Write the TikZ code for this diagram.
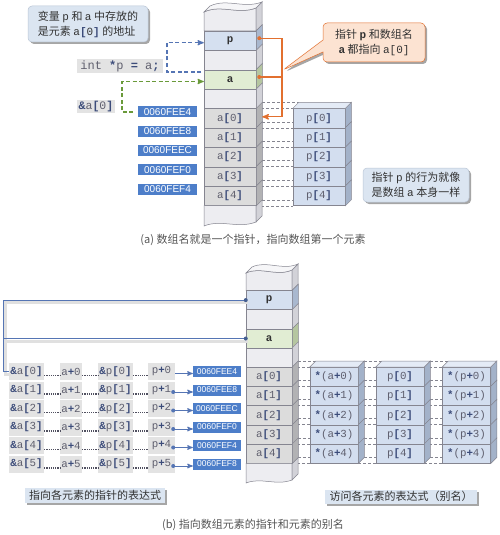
\documentclass[tikz,border=0pt]{standalone}
\usepackage{fontspec}
\setmainfont{Liberation Sans}
\setmonofont{Liberation Mono}
\newfontfamily\cjk{Noto Sans CJK SC}
\usetikzlibrary{arrows,shadows,shapes.callouts,backgrounds}

\definecolor{rim}{HTML}{858590}
\definecolor{blank}{HTML}{EDEDF1}
\definecolor{blankside}{HTML}{D2D2D8}
\definecolor{blanktop}{HTML}{F6F6F8}
\definecolor{pcell}{HTML}{D5E0F0}
\definecolor{pside}{HTML}{A9B8CF}
\definecolor{acell}{HTML}{E1EDD3}
\definecolor{aside}{HTML}{B5C6A0}
\definecolor{elcell}{HTML}{DCDCDC}
\definecolor{elside}{HTML}{B2B2B4}
\definecolor{bxcell}{HTML}{D3DEEF}
\definecolor{bxside}{HTML}{A3B2C9}
\definecolor{bxtop}{HTML}{E4EBF6}
\definecolor{addr}{HTML}{4D7EC9}
\definecolor{expr}{HTML}{E3E3E3}
\definecolor{note}{HTML}{DBE5F1}
\definecolor{noteline}{HTML}{BAC6D6}
\definecolor{orline}{HTML}{E2702F}
\definecolor{ornote}{HTML}{FCE3D2}
\definecolor{blline}{HTML}{5575B4}
\definecolor{gnline}{HTML}{6A9A3A}
\definecolor{txt}{HTML}{5F5F6E}
\definecolor{brk}{HTML}{3C4C7A}
\definecolor{capc}{HTML}{555555}
\definecolor{leadc}{HTML}{505060}

\newcommand\bk[1]{\textbf{\color{brk}#1}}
\def\dd{6pt}

\begin{document}
\begin{tikzpicture}[x=1pt,y=-1pt,>=stealth',
  cell/.style={draw=rim,line width=0.5pt,inner sep=0pt,minimum height=19.4pt,text=txt,font=\ttfamily\fontsize{10.8}{12}\selectfont},
  colA/.style={cell,minimum width=52pt},
  colB/.style={cell,minimum width=46pt,minimum height=19.2pt},
  boxA/.style={cell,fill=bxcell,minimum width=52pt},
  boxB/.style={cell,fill=bxcell,minimum width=48pt,minimum height=19.2pt},
  bold/.style={font=\ttfamily\bfseries\fontsize{10.8}{12}\selectfont,text=black!80},
  face/.style={draw=rim,line width=0.5pt},
  link/.style={draw=rim,line width=0.5pt,dash pattern=on 3pt off 2pt},
  addrbox/.style={fill=addr,text=white,inner sep=0pt,minimum height=11pt,font=\fontsize{10}{11}\selectfont},
  exprbox/.style={fill=expr,inner sep=0pt,minimum height=17pt,text=txt,font=\ttfamily\fontsize{10.8}{12}\selectfont},
  notebox/.style={draw=noteline,fill=note,rounded corners=4pt,line width=0.5pt,
    drop shadow={shadow xshift=2pt,shadow yshift=-2pt,opacity=0.35,fill=black},
    font=\cjk\fontsize{11}{15}\selectfont,text=black!80,align=left,inner sep=3pt},
  tagbox/.style={fill=note,inner sep=1pt,
    drop shadow={shadow xshift=2pt,shadow yshift=-2pt,opacity=0.35,fill=black},
    font=\cjk\fontsize{11}{13}\selectfont,text=black!80},
  caption/.style={font=\cjk\fontsize{11}{12}\selectfont,text=capc},
  leader/.style={draw=leadc,line width=1.1pt,dash pattern=on 1.1pt off 1.1pt},
  oline/.style={draw=orline,line width=1.3pt},
  bdash/.style={draw=blline,line width=1.2pt,dash pattern=on 4pt off 2.5pt,->},
  gdash/.style={draw=gnline,line width=1.2pt,dash pattern=on 4pt off 2.5pt,->},
  bline/.style={draw=blline,line width=1pt},
  lshadow/.style={draw=black!12,line width=3pt,transform canvas={xshift=2pt,yshift=-2.5pt}},
  barrow/.style={draw=blline,line width=1pt,->}]

\useasboundingbox (0,0) rectangle (500,535);

% ---- (a) memory column
\draw[face,fill=blank] (204,31) -- (204,12) .. controls (221,4) and (238,15) .. (256,8) -- (256,31) -- cycle;
\draw[face,fill=blankside] (256,8) -- (262,2) -- (262,25) -- (256,31) -- cycle;
\draw[face,fill=blanktop] (204,12) .. controls (221,4) and (238,15) .. (256,8) -- (262,2) .. controls (244,9) and (227,-2) .. (210,6) -- cycle;

\node[colA,fill=pcell,bold]   (pA)  at (230,40.7) {p};
\node[colA,fill=blank]        (gA1) at (230,60.1) {};
\node[colA,fill=acell,bold]   (aA)  at (230,79.5) {a};
\node[colA,fill=blank]        (gA2) at (230,98.9) {};
\foreach \i in {0,...,4}
  \node[colA,fill=elcell] (elA\i) at (230,{118.3+19.4*\i}) {a\bk{[}\i\bk{]}};

\draw[face,fill=blank] (204,205.6) -- (204,226) .. controls (221,219) and (238,229) .. (256,222) -- (256,205.6) -- cycle;
\draw[face,fill=blankside] (256,205.6) -- (262,199.6) -- (262,216) -- (256,222) -- cycle;

% p[i] stack
\foreach \i in {0,...,4}
  \node[boxA] (ptA\i) at (319,{118.3+19.4*\i}) {p\bk{[}\i\bk{]}};

% addresses
\foreach \i/\ad in {0/0060FEE4,1/0060FEE8,2/0060FEEC,3/0060FEF0,4/0060FEF4}
  \node[addrbox,minimum width=59pt] (adA\i) at (167.5,{111.6+19.4*\i}) {\ad};

\node[exprbox,minimum width=86pt,minimum height=14pt,font=\ttfamily\fontsize{12}{14}\selectfont] (decl) at (120,66) {int \bk{*}p \bk{=} a\bk{;}};
\node[exprbox,minimum width=38pt,minimum height=13pt,font=\ttfamily\fontsize{11.5}{13}\selectfont] (adr0) at (96,106.5) {\bk{\&}a\bk{[}0\bk{]}};

% ---- (b) memory column
\draw[face,fill=blank] (246,290.5) -- (246,273) .. controls (261,266) and (276,277) .. (292,270) -- (292,290.5) -- cycle;
\draw[face,fill=blankside] (292,270) -- (298,264) -- (298,284.5) -- (292,290.5) -- cycle;
\draw[face,fill=blanktop] (246,273) .. controls (261,266) and (276,277) .. (292,270) -- (298,264) .. controls (282,271) and (267,260) .. (252,267) -- cycle;

\node[colB,fill=pcell,bold]   (pB)  at (269,300.1) {p};
\node[colB,fill=blank]        (gB1) at (269,319.3) {};
\node[colB,fill=acell,bold]   (aB)  at (269,338.5) {a};
\node[colB,fill=blank]        (gB2) at (269,357.7) {};
\foreach \i in {0,...,4}
  \node[colB,fill=elcell] (elB\i) at (269,{376.9+19.2*\i}) {a\bk{[}\i\bk{]}};

\draw[face,fill=blank] (246,463.3) -- (246,483) .. controls (261,477) and (276,486) .. (292,480) -- (292,463.3) -- cycle;
\draw[face,fill=blankside] (292,463.3) -- (298,457.3) -- (298,474) -- (292,480) -- cycle;

% alias stacks
\foreach \i in {0,...,4} {
  \node[boxB] (stA\i) at (334,{376.9+19.2*\i})   {\bk{*}(a\bk{+}\i)};
  \node[boxB] (ptB\i) at (400,{376.9+19.2*\i})   {p\bk{[}\i\bk{]}};
  \node[boxB] (stP\i) at (466.5,{376.9+19.2*\i}) {\bk{*}(p\bk{+}\i)};
}

% side and top faces
\foreach \n/\col in {pA/pside,gA1/blankside,aA/aside,gA2/blankside,pB/pside,gB1/blankside,aB/aside,gB2/blankside}
  \draw[face,fill=\col] (\n.north east) -- ++(\dd,\dd) -- ([shift={(\dd,\dd)}]\n.south east) -- (\n.south east) -- cycle;
\foreach \n/\col in {elA/elside,elB/elside,ptA/bxside,stA/bxside,ptB/bxside,stP/bxside}
  \foreach \i in {0,...,4}
    \draw[face,fill=\col] (\n\i.north east) -- ++(\dd,\dd) -- ([shift={(\dd,\dd)}]\n\i.south east) -- (\n\i.south east) -- cycle;
\foreach \n in {ptA,stA,ptB,stP}
  \draw[face,fill=bxtop] (\n0.north west) -- ++(\dd,\dd) -- ([shift={(\dd,\dd)}]\n0.north east) -- (\n0.north east) -- cycle;

% dashed row links
\begin{scope}[on background layer]
\fill[white] (0,0) rectangle (500,535);
\foreach \lf/\rt in {elA/ptA,elB/stA,stA/ptB,ptB/stP} {
  \foreach \i in {0,...,4} {
    \draw[link] (\lf\i.north east) -- (\rt\i.north west);
    \draw[link] ([shift={(\dd,\dd)}]\lf\i.north east) -- ([shift={(\dd,\dd)}]\rt\i.north west);
  }
  \draw[link] (\lf4.south east) -- (\rt4.south west);
  \draw[link] ([shift={(\dd,\dd)}]\lf4.south east) -- ([shift={(\dd,\dd)}]\rt4.south west);
}
\end{scope}

% (a) connectors
\coordinate (bs) at (201,72);
\coordinate (gs) at (133,112);
\draw[bdash] (bs) -- ++(-34,0) |- ([yshift=-2pt]pA.west);
\draw[gdash] (gs) -- ++(-11,0) |- ([yshift=-2pt]aA.west);

\coordinate (oj)   at (282,0);
\coordinate (pdot) at ([shift={(3pt,2.5pt)}]pA.east);
\coordinate (adot) at ([shift={(3pt,2.5pt)}]aA.east);
\coordinate (a0in) at ([shift={(6pt,1.5pt)}]elA0.east);
\draw[oline,->] (pdot) -| (oj |- a0in) -- (a0in);
\draw[oline] (adot) -- (adot -| oj);
\fill[orline] (pdot) circle (2pt) (adot) circle (2pt);

% (a) notes
\coordinate (ot) at (283,70);
\node[notebox,minimum width=120pt,minimum height=36pt] (nt1) at (88,24)
  {变量 \texttt{p} 和 \texttt{a} 中存放的\\是元素 \texttt{a\bk{[}0\bk{]}} 的地址};
\node[notebox,rectangle callout,callout absolute pointer={(ot)},callout pointer width=12pt,
  fill=ornote,draw=orline,align=center,minimum width=102pt,minimum height=39pt] (nt2) at (374,42.5)
  {指针 \texttt{\textbf{p}} 和数组名\\\texttt{\textbf{a}} 都指向 \texttt{a[0]}};
\node[notebox,minimum width=106pt,minimum height=34pt] (nt3) at (416,185)
  {指针 \texttt{p} 的行为就像\\是数组 \texttt{a} 本身一样};
\node[caption] (capA) at (253,240) {(a) 数组名就是一个指针，指向数组第一个元素};

% (b) pointer expressions
\foreach \i/\ad in {0/0060FEE4,1/0060FEE8,2/0060FEEC,3/0060FEF0,4/0060FEF4,5/0060FEF8} {
  \node[exprbox,minimum width=35pt] (ea\i) at (26.5,{371.5+18.5*\i})  {\bk{\&}a\bk{[}\i\bk{]}};
  \node[exprbox,minimum width=22pt] (aa\i) at (71,{371.5+18.5*\i})    {a\bk{+}\i};
  \node[exprbox,minimum width=35pt] (ep\i) at (115.5,{371.5+18.5*\i}) {\bk{\&}p\bk{[}\i\bk{]}};
  \node[exprbox,minimum width=27pt] (pp\i) at (161.5,{371.5+18.5*\i}) {p\bk{+}\i};
  \node[addrbox,minimum width=48pt,font=\fontsize{8.5}{10}\selectfont] (adB\i) at (217,{371.5+18.5*\i}) {\ad};
  \draw[leader] ([yshift=-4pt]ea\i.east) -- ([yshift=-4pt]aa\i.west);
  \draw[leader] ([yshift=-4pt]aa\i.east) -- ([yshift=-4pt]ep\i.west);
  \draw[leader] ([yshift=-4pt]ep\i.east) -- ([yshift=-4pt]pp\i.west);
  \draw[barrow] ([yshift=-2pt]pp\i.east) -- ([yshift=-2pt]adB\i.west);
}
\foreach \i in {1,...,5}
  \fill[blline] ([shift={(-2pt,-2pt)}]pp\i.east) circle (2pt);

% (b) p and a both lead to &a[0]
\coordinate (lc) at (3,0);
\draw[lshadow] (pB.west) -- (pB.west -| lc) |- (ea0.west);
\draw[lshadow] (aB.west) -- (aB.west -| lc);
\draw[bline] (pB.west) -- (pB.west -| lc) |- (ea0.west);
\draw[bline] (aB.west) -- (aB.west -| lc);
\fill[blline!80!black] (pB.west) circle (2pt) (aB.west) circle (2pt);

% (b) labels
\node[tagbox,minimum width=140pt,minimum height=15pt] (tgL) at (95,495.5) {指向各元素的指针的表达式};
\node[tagbox,minimum width=152pt,minimum height=14pt] (tgR) at (401,496.5) {访问各元素的表达式（别名）};
\node[caption] (capB) at (253,525) {(b) 指向数组元素的指针和元素的别名};

\end{tikzpicture}
\end{document}
